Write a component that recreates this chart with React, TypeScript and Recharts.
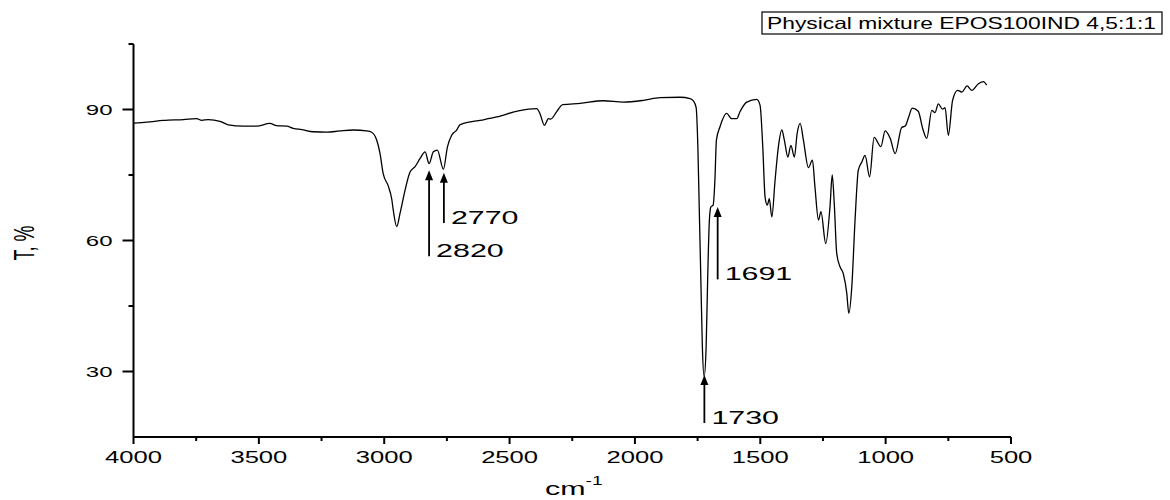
import { LineChart, Line, XAxis, YAxis, ReferenceLine } from "recharts";

// IR spectrum, physical mixture EPOS100IND 4,5:1:1
const WAVENUMBER = [
  3998, 3947, 3881, 3801, 3748, 3728, 3702, 3655, 3622, 3562, 3509, 3456, 3429, 3389, 3363, 3329,
  3283, 3229, 3176, 3123, 3070, 3050, 3030, 3017, 3004, 2984, 2970, 2964, 2950, 2937, 2917, 2897,
  2877, 2857, 2837, 2821, 2804, 2788, 2764, 2748, 2731, 2711, 2698, 2684, 2645, 2618, 2585, 2551,
  2465, 2392, 2379, 2361, 2345, 2336, 2312, 2288, 2219, 2126, 2046, 1966, 1900, 1820, 1780, 1767,
  1756, 1749, 1743, 1737, 1731, 1724, 1716, 1710, 1703, 1697, 1688, 1681, 1675, 1661, 1634, 1614,
  1594, 1581, 1554, 1514, 1501, 1490, 1481, 1472, 1464, 1454, 1441, 1428, 1414, 1404, 1390, 1378,
  1364, 1353, 1341, 1328, 1308, 1292, 1282, 1268, 1258, 1239, 1222, 1213, 1205, 1195, 1182, 1169,
  1155, 1147, 1135, 1122, 1109, 1095, 1082, 1064, 1046, 1019, 1002, 982, 962, 936, 922, 909,
  894, 870, 852, 836, 816, 803, 790, 773, 763, 750, 733, 713, 696, 675, 657, 630,
  610, 597,
];
const TRANSMITTANCE = [
  86.9, 87.1, 87.5, 87.7, 87.9, 87.5, 87.7, 87.3, 86.5, 86.2, 86.2, 86.8, 86.3, 86.2, 85.7, 85.4,
  84.9, 84.8, 85.1, 85.3, 85.1, 84.8, 83.0, 80.0, 75.3, 72.5, 69.5, 67.0, 63.2, 66.2, 71.5, 75.7,
  76.9, 78.8, 80.3, 77.6, 80.3, 80.7, 76.3, 81.4, 84.1, 85.3, 86.5, 86.8, 87.3, 87.5, 87.9, 88.3,
  89.7, 90.2, 89.1, 86.4, 87.9, 87.8, 89.5, 91.1, 91.4, 92.0, 91.7, 92.1, 92.7, 92.8, 92.5, 92.0,
  90.5, 81.5, 66.2, 50.9, 35.6, 28.8, 35.6, 50.9, 64.7, 67.7, 68.1, 73.8, 83.0, 86.0, 89.1, 87.9,
  87.9, 89.5, 91.7, 92.3, 91.0, 81.4, 70.0, 68.1, 69.6, 65.4, 73.8, 81.4, 85.3, 83.0, 79.1, 81.8,
  79.1, 84.5, 86.8, 83.0, 76.7, 78.4, 72.3, 64.7, 66.6, 59.3, 67.7, 75.0, 68.5, 57.0, 54.0, 52.4,
  47.9, 43.3, 49.4, 64.7, 76.1, 78.0, 79.5, 74.6, 83.6, 81.5, 85.1, 83.4, 79.9, 85.9, 86.2, 88.1,
  90.3, 89.6, 85.6, 83.4, 89.8, 89.3, 91.3, 90.1, 90.4, 84.1, 92.1, 94.4, 94.0, 95.4, 94.4, 95.9,
  96.4, 95.6,
];

const X_TICKS = [4000, 3750, 3500, 3250, 3000, 2750, 2500, 2250, 2000, 1750, 1500, 1250, 1000, 750, 500];
const Y_TICKS = [30, 45, 60, 75, 90, 105];

const PEAK_LABELS = ["2820", "2770", "1730", "1691"];
const PEAK_X = [2821, 2762, 1723, 1670];
const ARROW_FROM = [56.4, 64.0, 18.2, 51.1];
const ARROW_TO = [76.1, 75.5, 29.2, 67.7];

const data = WAVENUMBER.map((wn, i) => ({ wn, t: TRANSMITTANCE[i] }));

const FONT = "'Liberation Sans', Arial, sans-serif";
const STRETCH = 1.6; // the source figure is stretched horizontally

function XTick({ x, y, payload }: any) {
  const v = payload.value as number;
  const major = v % 500 === 0;
  return (
    <g>
      <line x1={x} y1={y} x2={x} y2={y + (major ? 7 : 4)} stroke="#000" strokeWidth={2} />
      {major && (
        <text
          transform={`translate(${x},${y + 26}) scale(${STRETCH},1)`}
          textAnchor="middle"
          fontSize={16}
          fontFamily={FONT}
          fill="#000"
        >
          {v}
        </text>
      )}
    </g>
  );
}

function YTick({ x, y, payload }: any) {
  const v = payload.value as number;
  const major = v % 30 === 0;
  return (
    <g>
      <line x1={x} y1={y} x2={x - (major ? 11 : 5)} y2={y} stroke="#000" strokeWidth={2} />
      {major && (
        <text
          transform={`translate(${x - 21},${y}) scale(${STRETCH},1)`}
          textAnchor="end"
          dy="0.36em"
          fontSize={15}
          fontFamily={FONT}
          fill="#000"
        >
          {v}
        </text>
      )}
    </g>
  );
}

function Arrow({ x1, y1, x2, y2, text }: any) {
  const head = 10;
  return (
    <g>
      <line x1={x1} y1={y1} x2={x2} y2={y2 + head - 1} stroke="#000" strokeWidth={1.8} />
      <polygon points={`${x2},${y2} ${x2 - 4},${y2 + head} ${x2 + 4},${y2 + head}`} fill="#000" />
      <text
        transform={`translate(${x1 + 7},${y1 + 1}) scale(${STRETCH},1)`}
        fontSize={19}
        fontFamily={FONT}
        fill="#000"
      >
        {text}
      </text>
    </g>
  );
}

export default function App() {
  return (
    <div style={{ position: "absolute", left: 0, top: 0, width: 1170, height: 500, background: "#fff" }}>
      <LineChart width={1170} height={500} data={data} margin={{ top: 44, right: 159, bottom: 23, left: 73.5 }}>
        <XAxis
          dataKey="wn"
          type="number"
          domain={[500, 4000]}
          reversed
          ticks={X_TICKS}
          interval={0}
          tick={<XTick />}
          tickLine={false}
          tickSize={0}
          tickMargin={0}
          height={40}
          axisLine={{ stroke: "#000", strokeWidth: 2 }}
        />
        <YAxis
          type="number"
          domain={[15, 105]}
          ticks={Y_TICKS}
          interval={0}
          tick={<YTick />}
          tickLine={false}
          tickSize={0}
          tickMargin={0}
          width={60}
          axisLine={{ stroke: "#000", strokeWidth: 2 }}
        />
        <Line
          type="monotone"
          dataKey="t"
          stroke="#000"
          strokeWidth={1.3}
          dot={false}
          isAnimationActive={false}
        />
        {PEAK_X.map((px, i) => (
          <ReferenceLine
            key={PEAK_LABELS[i]}
            segment={[
              { x: px, y: ARROW_FROM[i] },
              { x: px, y: ARROW_TO[i] },
            ]}
            shape={(p: any) => <Arrow {...p} text={PEAK_LABELS[i]} />}
          />
        ))}
      </LineChart>
      <svg width={1170} height={500} style={{ position: "absolute", left: 0, top: 0, pointerEvents: "none" }}>
        <rect x={762} y={12} width={400} height={22} fill="none" stroke="#000" strokeWidth={1.2} />
        <text
          x={767}
          y={29}
          textLength={389}
          lengthAdjust="spacingAndGlyphs"
          fontSize={16.5}
          fontFamily={FONT}
          fill="#000"
        >
          Physical mixture EPOS100IND 4,5:1:1
        </text>
        <text
          transform={`translate(34,243) scale(${STRETCH},1) rotate(-90)`}
          textAnchor="middle"
          fontSize={18}
          fontFamily={FONT}
          fill="#000"
        >
          T, %
        </text>
        <text transform={`translate(545,495) scale(${STRETCH},1)`} fontSize={19} fontFamily={FONT} fill="#000">
          cm
          <tspan fontSize={12} dy={-10}>
            -1
          </tspan>
        </text>
      </svg>
    </div>
  );
}
